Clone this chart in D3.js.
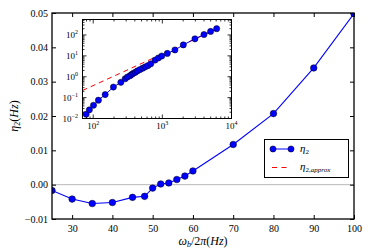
<!DOCTYPE html>
<html>
<head>
<meta charset="utf-8">
<script src="https://cdn.jsdelivr.net/npm/d3@7"></script>
<style>
  body { margin: 0; background: #fff; }
  text { font-family: "Liberation Serif", "DejaVu Serif", serif; fill: #000; }
</style>
</head>
<body>
<div id="chart"></div>
<script>
// Main data: eta_2 against drive frequency
const freq = [25, 30, 35, 40, 45, 48, 50, 52, 54, 56, 58, 60, 70, 80, 90, 100];
const eta2 = [-0.0017, -0.0042, -0.0055, -0.0052, -0.0037, -0.0034, -0.001, 0.0002,
  0.0005, 0.0015, 0.0025, 0.004, 0.0117, 0.0207, 0.034, 0.0498];

// Inset data (log-log)
const insetX = [79, 88, 101, 119, 149, 196, 251, 290, 313, 342, 362, 382, 408, 435,
  476, 521, 568, 622, 680, 785, 876, 980, 1180, 1520, 2010, 2960, 4000, 4990, 6100];
const insetEta = [0.016, 0.026, 0.043, 0.075, 0.14, 0.32, 0.54, 0.8, 0.97, 1.12, 1.31,
  1.47, 1.64, 1.9, 2.2, 2.57, 2.97, 3.44, 4.15, 6.3, 7.9, 9.8, 13.1, 19.1, 33.5, 65,
  105, 148, 200];
const approxX = [70, 6100];
const approxEta = [0.22, 190];

// Ticks
const xTicks = [30, 40, 50, 60, 70, 80, 90, 100];
const yTicks = [-0.01, 0, 0.01, 0.02, 0.03, 0.04, 0.05];
const insetXExp = [2, 3, 4];
const insetYExp = [-2, -1, 0, 1, 2];

const width = 374;
const height = 249;

const svg = d3.select('#chart').append('svg')
  .attr('width', width)
  .attr('height', height);

// Main axes
const mLeft = 52, mRight = 354, mTop = 13, mBottom = 219;
const x = d3.scaleLinear().domain([25, 100]).range([mLeft, mRight]);
const y = d3.scaleLinear().domain([-0.01, 0.05]).range([mBottom, mTop]);

svg.append('clipPath').attr('id', 'clip-main')
  .append('rect')
  .attr('x', mLeft).attr('y', mTop)
  .attr('width', mRight - mLeft).attr('height', mBottom - mTop);

// zero line
svg.append('line')
  .attr('x1', mLeft).attr('x2', mRight)
  .attr('y1', y(0)).attr('y2', y(0))
  .attr('stroke', '#b8b8b8')
  .attr('stroke-width', 1);

const tickStyle = (g) => {
  g.select('.domain').remove();
  g.selectAll('.tick line').attr('stroke', '#000').attr('stroke-width', 1);
  g.selectAll('.tick text').attr('font-size', '10px').style('font-family', '"Liberation Serif", serif');
};

svg.append('g')
  .attr('transform', `translate(0,${mBottom})`)
  .call(d3.axisBottom(x).tickValues(xTicks).tickSize(-4).tickPadding(6).tickFormat(d3.format('d')))
  .call(tickStyle);
svg.append('g')
  .attr('transform', `translate(0,${mTop})`)
  .call(d3.axisTop(x).tickValues(xTicks).tickSize(-4).tickFormat(''))
  .call(tickStyle);
svg.append('g')
  .attr('transform', `translate(${mLeft},0)`)
  .call(d3.axisLeft(y).tickValues(yTicks).tickSize(-4).tickPadding(4).tickFormat(d3.format('.2f')))
  .call(tickStyle);
svg.append('g')
  .attr('transform', `translate(${mRight},0)`)
  .call(d3.axisRight(y).tickValues(yTicks).tickSize(-4).tickFormat(''))
  .call(tickStyle);

// main line + markers
const mainLine = d3.line().x((d, i) => x(freq[i])).y((d) => y(d));
const plot = svg.append('g').attr('clip-path', 'url(#clip-main)');
plot.append('path')
  .datum(eta2)
  .attr('d', mainLine)
  .attr('fill', 'none')
  .attr('stroke', '#0000ff')
  .attr('stroke-width', 1.1);
plot.selectAll('circle')
  .data(eta2)
  .enter()
  .append('circle')
  .attr('cx', (d, i) => x(freq[i]))
  .attr('cy', (d) => y(d))
  .attr('r', 3.3)
  .attr('fill', '#0000ff')
  .attr('stroke', '#000')
  .attr('stroke-width', 0.5);

// frame
svg.append('rect')
  .attr('x', mLeft).attr('y', mTop)
  .attr('width', mRight - mLeft).attr('height', mBottom - mTop)
  .attr('fill', 'none')
  .attr('stroke', '#000')
  .attr('stroke-width', 1.3);

// axis labels
const xl = svg.append('text')
  .attr('x', (mLeft + mRight) / 2)
  .attr('y', 245)
  .attr('text-anchor', 'middle')
  .attr('font-size', '12px');
xl.append('tspan').attr('font-style', 'italic').text('ω');
xl.append('tspan').attr('font-style', 'italic').attr('font-size', '8px').attr('dy', 2).text('b');
xl.append('tspan').attr('dy', -2).text('/2');
xl.append('tspan').attr('font-style', 'italic').text('π');
xl.append('tspan').text('(');
xl.append('tspan').attr('font-style', 'italic').text('Hz');
xl.append('tspan').text(')');

const yl = svg.append('text')
  .attr('transform', `translate(18,${(mTop + mBottom) / 2}) rotate(-90)`)
  .attr('text-anchor', 'middle')
  .attr('font-size', '12px');
yl.append('tspan').attr('font-style', 'italic').text('η');
yl.append('tspan').attr('font-size', '8px').attr('dy', 2).text('2');
yl.append('tspan').attr('dy', -2).text('(');
yl.append('tspan').attr('font-style', 'italic').text('Hz');
yl.append('tspan').text(')');

// Inset
const iLeft = 82.5, iRight = 231.5, iTop = 19.5, iBottom = 118.5;
const ix = d3.scaleLog().domain([70, 10000]).range([iLeft, iRight]);
const iy = d3.scaleLog().domain([0.01, 550]).range([iBottom, iTop]);

svg.append('rect')
  .attr('x', iLeft).attr('y', iTop)
  .attr('width', iRight - iLeft).attr('height', iBottom - iTop)
  .attr('fill', '#fff');

const isMajor = (v) => Math.abs(Math.log10(v) - Math.round(Math.log10(v))) < 1e-6;
const xMinor = ix.ticks().filter((v) => v >= 70 && v <= 10000);
const yMinor = iy.ticks().filter((v) => v >= 0.01 && v <= 550);

const insetTicks = svg.append('g').attr('stroke', '#000').attr('stroke-width', 0.8);
xMinor.forEach((v) => {
  const len = isMajor(v) ? 4 : 2;
  insetTicks.append('line').attr('x1', ix(v)).attr('x2', ix(v)).attr('y1', iBottom).attr('y2', iBottom - len);
  insetTicks.append('line').attr('x1', ix(v)).attr('x2', ix(v)).attr('y1', iTop).attr('y2', iTop + len);
});
yMinor.forEach((v) => {
  const len = isMajor(v) ? 4 : 2;
  insetTicks.append('line').attr('y1', iy(v)).attr('y2', iy(v)).attr('x1', iLeft).attr('x2', iLeft + len);
  insetTicks.append('line').attr('y1', iy(v)).attr('y2', iy(v)).attr('x1', iRight).attr('x2', iRight - len);
});

// inset tick labels
insetXExp.forEach((e) => {
  const t = svg.append('text')
    .attr('x', ix(Math.pow(10, e)))
    .attr('y', 129)
    .attr('text-anchor', 'middle')
    .attr('font-size', '9px');
  t.append('tspan').text('10');
  t.append('tspan').attr('font-size', '6px').attr('dy', -4).text(e);
});
insetYExp.forEach((e) => {
  const t = svg.append('text')
    .attr('x', 78)
    .attr('y', iy(Math.pow(10, e)) + 3)
    .attr('text-anchor', 'end')
    .attr('font-size', '9px');
  t.append('tspan').text('10');
  t.append('tspan').attr('font-size', '6px').attr('dy', -4).text(e < 0 ? '−' + Math.abs(e) : e);
});

const iplot = svg.append('g');
iplot.append('path')
  .datum(approxEta)
  .attr('d', d3.line().x((d, i) => ix(approxX[i])).y((d) => iy(d)))
  .attr('fill', 'none')
  .attr('stroke', '#ff0000')
  .attr('stroke-width', 1)
  .attr('stroke-dasharray', '5,4');
iplot.append('path')
  .datum(insetEta)
  .attr('d', d3.line().x((d, i) => ix(insetX[i])).y((d) => iy(d)))
  .attr('fill', 'none')
  .attr('stroke', '#0000ff')
  .attr('stroke-width', 1);
iplot.selectAll('circle')
  .data(insetEta)
  .enter()
  .append('circle')
  .attr('cx', (d, i) => ix(insetX[i]))
  .attr('cy', (d) => iy(d))
  .attr('r', 3.1)
  .attr('fill', '#0000ff')
  .attr('stroke', '#000')
  .attr('stroke-width', 0.5);

svg.append('rect')
  .attr('x', iLeft).attr('y', iTop)
  .attr('width', iRight - iLeft).attr('height', iBottom - iTop)
  .attr('fill', 'none')
  .attr('stroke', '#000')
  .attr('stroke-width', 1);

// Legend
const legend = svg.append('g');
legend.append('rect')
  .attr('x', 264.5).attr('y', 139.5)
  .attr('width', 84).attr('height', 38)
  .attr('fill', '#fff')
  .attr('stroke', '#000')
  .attr('stroke-width', 1);
legend.append('line')
  .attr('x1', 273).attr('x2', 291).attr('y1', 149).attr('y2', 149)
  .attr('stroke', '#5555ff').attr('stroke-width', 1.5);
[273, 291].forEach((cx) => {
  legend.append('circle')
    .attr('cx', cx).attr('cy', 149).attr('r', 3.1)
    .attr('fill', '#0000ff').attr('stroke', '#000').attr('stroke-width', 0.5);
});
legend.append('line')
  .attr('x1', 272).attr('x2', 291).attr('y1', 167.5).attr('y2', 167.5)
  .attr('stroke', '#ff0000').attr('stroke-width', 1)
  .attr('stroke-dasharray', '5,4.5');

const l1 = legend.append('text').attr('x', 300).attr('y', 152).attr('font-size', '11px');
l1.append('tspan').attr('font-style', 'italic').text('η');
l1.append('tspan').attr('font-size', '7px').attr('dy', 2).text('2');

const l2 = legend.append('text').attr('x', 300).attr('y', 170).attr('font-size', '11px');
l2.append('tspan').attr('font-style', 'italic').text('η');
l2.append('tspan').attr('font-size', '7px').attr('dy', 2).text('2,');
l2.append('tspan').attr('font-size', '7px').attr('font-style', 'italic').text('approx');
</script>
</body>
</html>
